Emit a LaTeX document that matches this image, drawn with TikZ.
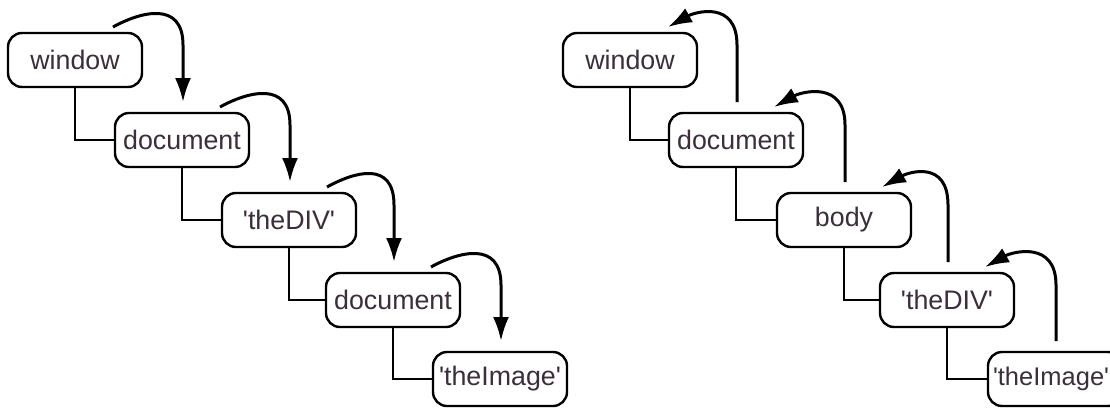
\documentclass[tikz,border=0pt]{standalone}
\usepackage{fontspec}
\setmainfont{Liberation Sans}[Ligatures=TeXOff]
\usetikzlibrary{arrows.meta,calc}
\definecolor{labeltext}{RGB}{58,47,58}

% Curved arrow from the upper right of a parent box down onto its child
\newcommand\flowdown[2]{%
  \coordinate (#1out) at ($(#1.center)+(38,-33)$);
  \coordinate (#2in) at ($(#2.center)+(1,-38)$);
  \draw[flow] (#1out) .. controls ($(#1out)+(27,-15)$) and ($(#2in|-#1out)+(0,-27)$)
    .. ($(#2in|-#1out)+(0,18)$) -- (#2in);}
% Curved arrow from above a child box back up onto its parent
\newcommand\flowup[2]{%
  \coordinate (#1out) at ($(#1.center)+(38,-33)$);
  \coordinate (#2in) at ($(#2.center)+(1,-38)$);
  \draw[flow] (#2in) -- ($(#2in|-#1out)+(0,18)$)
    .. controls ($(#2in|-#1out)+(0,-27)$) and ($(#1out)+(27,-15)$) .. (#1out);}

\begin{document}
\begin{tikzpicture}[x=1pt,y=-1pt,
  box/.style={draw,line width=2.4pt,rounded corners=14pt,fill=white,
    minimum width=134pt,minimum height=54pt,inner sep=0pt,
    font=\fontsize{26.8}{30}\selectfont,text=labeltext},
  edgebox/.style={box,text width=124pt,inner xsep=5pt,align=left,
    font=\fontsize{25.5}{30}\selectfont},
  tree/.style={line width=2.5pt},
  flow/.style={line width=3pt,-{Latex[length=24pt,width=16pt]}}]
\useasboundingbox (0,0) rectangle (1110,407);

% left chain: event travelling down
\node[box] (lwin)  at (75,60)   {window};
\node[box] (ldoc)  at (182,140) {document};
\node[box] (ldiv)  at (289,220) {'theDIV'};
\node[box] (ldocb) at (393,300) {document};
\node[box] (limg)  at (500,379) {'theImage'};

\draw[tree] (lwin.south)  |- (ldoc.west);
\draw[tree] (ldoc.south)  |- (ldiv.west);
\draw[tree] (ldiv.south)  |- (ldocb.west);
\draw[tree] (ldocb.south) |- (limg.west);

\flowdown{lwin}{ldoc}
\flowdown{ldoc}{ldiv}
\flowdown{ldiv}{ldocb}
\flowdown{ldocb}{limg}

% right chain: event bubbling up
\node[box] (rwin)  at (630,60)   {window};
\node[box] (rdoc)  at (736,140)  {document};
\node[box] (rbody) at (844,220)  {body};
\node[box] (rdiv)  at (947,300)  {'theDIV'};
\node[edgebox] (rimg) at (1055,379) {'theImage'};

\draw[tree] (rwin.south)  |- (rdoc.west);
\draw[tree] (rdoc.south)  |- (rbody.west);
\draw[tree] (rbody.south) |- (rdiv.west);
\draw[tree] (rdiv.south)  |- (rimg.west);

\flowup{rwin}{rdoc}
\flowup{rdoc}{rbody}
\flowup{rbody}{rdiv}
\flowup{rdiv}{rimg}
\end{tikzpicture}
\end{document}
